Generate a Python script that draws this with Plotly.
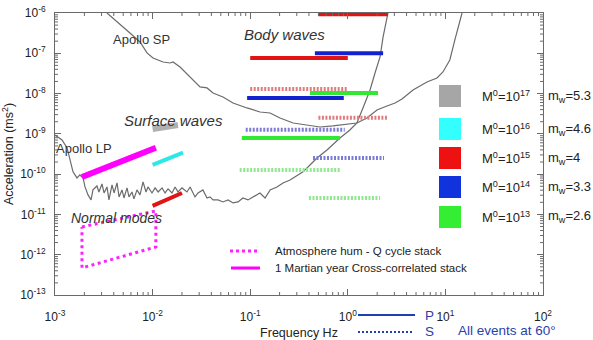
import plotly.graph_objects as go

FONT = "Arial, Liberation Sans, Helvetica, sans-serif"

# ---------------- data ----------------
# Apollo short-period noise curve
sp_freq = [3.41e-3, 3.93e-3, 4.42e-3, 5.86e-3, 7.43e-3, 8.77e-3, 1.01e-2, 1.28e-2, 1.51e-2, 1.62e-2,
           1.91e-2, 2.42e-2, 3.06e-2, 3.61e-2, 4.16e-2, 5.26e-2, 6.67e-2, 9.27e-2, 0.126, 0.160,
           0.202, 0.275, 0.382, 0.519, 0.705, 0.982, 1.24, 1.57, 1.99, 2.52,
           3.05, 3.59, 4.66, 6.47, 8.20, 9.44, 11.1, 12.5, 14.1, 14.8]
sp_acc = [1.00e-6, 7.52e-7, 5.65e-7, 3.19e-7, 1.91e-7, 1.02e-7, 7.64e-8, 6.08e-8, 5.74e-8, 6.08e-8,
          4.57e-8, 2.58e-8, 1.46e-8, 1.38e-8, 1.03e-8, 8.24e-9, 5.85e-9, 4.40e-9, 3.49e-9, 3.30e-9,
          2.48e-9, 1.86e-9, 1.66e-9, 1.48e-9, 1.57e-9, 1.76e-9, 1.86e-9, 2.48e-9, 3.92e-9, 4.92e-9,
          5.85e-9, 7.34e-9, 1.23e-8, 1.94e-8, 2.44e-8, 3.44e-8, 6.82e-8, 2.14e-7, 6.70e-7, 1.00e-6]

# Apollo long-period noise curve
lp_freq = [1.00e-3, 1.07e-3, 1.18e-3, 1.33e-3, 1.43e-3, 1.53e-3, 1.68e-3, 1.80e-3, 1.94e-3, 2.03e-3,
           2.18e-3, 2.34e-3, 2.45e-3, 2.69e-3, 2.82e-3, 3.03e-3, 3.18e-3, 3.41e-3, 3.57e-3, 3.84e-3,
           4.03e-3, 4.32e-3, 4.53e-3, 4.86e-3, 5.09e-3, 5.47e-3, 5.73e-3, 6.15e-3, 6.44e-3, 6.92e-3,
           7.43e-3, 7.98e-3, 8.56e-3, 8.97e-3, 9.86e-3, 1.06e-2, 1.14e-2, 1.25e-2, 1.34e-2, 1.44e-2,
           1.58e-2, 1.70e-2, 1.82e-2, 2.00e-2, 2.25e-2, 2.42e-2, 2.72e-2, 2.92e-2, 3.28e-2, 3.61e-2,
           3.87e-2, 4.16e-2, 4.68e-2, 5.26e-2, 5.93e-2, 6.67e-2, 7.50e-2, 8.43e-2, 9.49e-2, 0.107,
           0.126, 0.142, 0.160, 0.188, 0.217, 0.256, 0.302, 0.348, 0.410, 0.483,
           0.612, 0.832, 1.05, 1.24, 1.43, 1.69, 1.90, 2.14, 2.30, 2.58]
lp_acc = [9.40e-10, 8.38e-10, 7.06e-10, 4.47e-10, 2.01e-10, 1.14e-10, 8.05e-11, 9.55e-11, 8.05e-11, 4.81e-11,
          3.05e-11, 2.29e-11, 4.06e-11, 5.09e-11, 3.61e-11, 5.71e-11, 3.41e-11, 4.81e-11, 2.29e-11, 5.40e-11,
          3.41e-11, 6.05e-11, 2.72e-11, 4.06e-11, 2.56e-11, 4.55e-11, 2.72e-11, 3.61e-11, 2.43e-11, 4.06e-11,
          3.05e-11, 6.40e-11, 3.61e-11, 4.81e-11, 3.41e-11, 4.55e-11, 3.61e-11, 4.55e-11, 3.41e-11, 4.30e-11,
          3.41e-11, 4.81e-11, 3.61e-11, 4.55e-11, 3.61e-11, 4.81e-11, 2.72e-11, 3.41e-11, 4.06e-11, 2.56e-11,
          2.72e-11, 2.29e-11, 2.29e-11, 2.04e-11, 2.29e-11, 1.93e-11, 2.04e-11, 2.56e-11, 2.29e-11, 2.72e-11,
          3.41e-11, 2.56e-11, 4.06e-11, 4.81e-11, 6.05e-11, 7.18e-11, 9.02e-11, 1.14e-10, 1.69e-10, 2.52e-10,
          3.98e-10, 7.91e-10, 1.25e-9, 1.86e-9, 4.40e-9, 1.23e-8, 3.24e-8, 8.10e-8, 2.54e-7, 1.00e-6]

# Body waves (P solid, S dotted) at 60 degrees
body_f_start = [0.50, 0.46, 0.10, 0.10, 0.41, 0.093, 0.50, 0.090, 0.082, 0.44, 0.078, 0.40]
body_f_end = [2.58, 2.30, 1.00, 1.00, 2.04, 0.91, 2.58, 0.93, 0.83, 2.35, 0.85, 2.14]
body_acc = [9.3e-7, 1.0e-7, 7.6e-8, 1.3e-8, 1.03e-8, 7.8e-9, 2.5e-9, 1.26e-9, 7.9e-10, 2.5e-10, 1.27e-10, 2.57e-11]
body_moment = ["1e15", "1e14", "1e15", "1e15", "1e13", "1e14", "1e15", "1e14", "1e13", "1e14", "1e13", "1e13"]
body_phase = ["P", "P", "P", "S", "P", "P", "S", "S", "P", "S", "S", "S"]

# Surface waves
surf_moment = ["1e17", "1e16", "1e15"]
surf_f_start = [1.0e-2, 1.0e-2, 1.0e-2]
surf_f_end = [1.82e-2, 2.05e-2, 2.0e-2]
surf_acc_start = [1.32e-9, 1.70e-10, 1.63e-11]
surf_acc_end = [1.66e-9, 3.40e-10, 3.41e-11]

# 1 Martian year cross-correlated stack
stack_freq = [1.89e-3, 1.08e-2]
stack_acc = [8.5e-11, 4.5e-10]

# Atmosphere hum - Q cycle stack (normal modes)
hum_freq = [1.89e-3, 1.08e-2, 1.08e-2, 1.89e-3, 1.89e-3]
hum_acc = [4.9e-12, 1.22e-11, 1.56e-12, 4.7e-13, 4.9e-12]

# Legend of seismic moments
legend_moment = ["1e17", "1e16", "1e15", "1e14", "1e13"]
legend_m0_exp = ["17", "16", "15", "14", "13"]
legend_mw = ["5.3", "4.6", "4", "3.3", "2.6"]

# axis ticks
x_tick_exp = [-3, -2, -1, 0, 1, 2]
y_tick_exp = [-13, -12, -11, -10, -9, -8, -7, -6]
minor_mult = [2, 3, 4, 5, 6, 7, 8, 9]

# ---------------- styles ----------------
solid_col = {"1e17": "rgba(150,150,150,0.75)", "1e16": "#2ee8e8", "1e15": "#e01414",
             "1e14": "#1222d0", "1e13": "#33e833"}
dot_col = {"1e15": "#e07c7c", "1e14": "#7c7cd6", "1e13": "#90e890"}
square_col = {"1e17": "#a6a6a6", "1e16": "#33ffff", "1e15": "#ee1111", "1e14": "#1133dd", "1e13": "#33ee33"}
AX = "#6a6a6a"

fig = go.Figure()

fig.add_trace(go.Scatter(x=sp_freq, y=sp_acc, mode="lines",
                         line=dict(color="#6b6b6b", width=1.2), hoverinfo="skip", showlegend=False))
fig.add_trace(go.Scatter(x=lp_freq, y=lp_acc, mode="lines",
                         line=dict(color="#6b6b6b", width=1.2), hoverinfo="skip", showlegend=False))

for f0, f1, a, m, ph in zip(body_f_start, body_f_end, body_acc, body_moment, body_phase):
    if ph == "P":
        line = dict(color=solid_col[m], width=4)
    else:
        line = dict(color=dot_col[m], width=4, dash="2px,1.5px")
    fig.add_trace(go.Scatter(x=[f0, f1], y=[a, a], mode="lines", line=line,
                             hoverinfo="skip", showlegend=False))

for m, f0, f1, a0, a1 in zip(surf_moment, surf_f_start, surf_f_end, surf_acc_start, surf_acc_end):
    w = 6 if m == "1e17" else 4
    fig.add_trace(go.Scatter(x=[f0, f1], y=[a0, a1], mode="lines",
                             line=dict(color=solid_col[m], width=w), hoverinfo="skip", showlegend=False))

fig.add_trace(go.Scatter(x=stack_freq, y=stack_acc, mode="lines",
                         line=dict(color="#ff00ff", width=6), hoverinfo="skip", showlegend=False))
fig.add_trace(go.Scatter(x=hum_freq, y=hum_acc, mode="lines",
                         line=dict(color="#ff22ff", width=3, dash="3px,3.5px"), hoverinfo="skip", showlegend=False))

# ---------------- layout helpers (pixel -> paper) ----------------
L, R, T, B = 55, 543, 13, 295
def px(x):
    return (x - L) / (R - L)
def py(y):
    return (B - y) / (B - T)

shapes = []
annotations = []

def txt(s, x, y, size, xanchor="center", color="#333333", italic=False):
    annotations.append(dict(text=s, x=px(x), y=py(y), xref="paper", yref="paper",
                            xanchor=xanchor, yanchor="middle", showarrow=False,
                            font=dict(family=FONT, size=size, color=color,
                                      style="italic" if italic else "normal")))

# minor log ticks (inside, on all four sides)
for d in x_tick_exp[:-1]:
    for k in minor_mult:
        v = k * 10.0 ** d
        shapes.append(dict(type="line", xref="x", yref="paper", ysizemode="pixel", yanchor=0,
                           x0=v, x1=v, y0=0, y1=3, line=dict(color=AX, width=1)))
        shapes.append(dict(type="line", xref="x", yref="paper", ysizemode="pixel", yanchor=1,
                           x0=v, x1=v, y0=0, y1=-3, line=dict(color=AX, width=1)))
for d in y_tick_exp[:-1]:
    for k in minor_mult:
        v = k * 10.0 ** d
        shapes.append(dict(type="line", yref="y", xref="paper", xsizemode="pixel", xanchor=0,
                           y0=v, y1=v, x0=0, x1=3, line=dict(color=AX, width=1)))
        shapes.append(dict(type="line", yref="y", xref="paper", xsizemode="pixel", xanchor=1,
                           y0=v, y1=v, x0=0, x1=-3, line=dict(color=AX, width=1)))

txt("Apollo SP", 141, 39, 13)
txt("Apollo LP", 54, 148, 13, xanchor="left")
txt("Surface waves", 173, 120, 15, italic=True)
txt("Body waves", 284, 34, 15, italic=True)
txt("Normal modes", 116, 218, 14, italic=True)

# moment legend
row_y = [96, 129, 158, 187, 217]
for m, e, mw, yc in zip(legend_moment, legend_m0_exp, legend_mw, row_y):
    shapes.append(dict(type="rect", xref="paper", yref="paper",
                       x0=px(439), x1=px(461), y0=py(yc - 11), y1=py(yc + 11),
                       fillcolor=square_col[m], line=dict(width=0), layer="above"))
    txt("M<sup>0</sup>=10<sup>%s</sup>" % e, 480, yc, 13, xanchor="left", color="#222222")
    txt("m<sub>w</sub>=%s" % mw, 546, yc, 13, xanchor="left", color="#222222")

# stack legend
shapes.append(dict(type="line", xref="paper", yref="paper", x0=px(230), x1=px(258), y0=py(251), y1=py(251),
                   line=dict(color="#ff22ff", width=3, dash="3px,3px"), layer="above"))
shapes.append(dict(type="line", xref="paper", yref="paper", x0=px(231), x1=px(260), y0=py(268), y1=py(268),
                   line=dict(color="#ff00ff", width=3), layer="above"))
txt("Atmosphere hum - Q cycle stack", 273, 251, 11.5, xanchor="left", color="#222222")
txt("1 Martian year Cross-correlated stack", 273, 268, 11.5, xanchor="left", color="#222222")

# P / S legend
shapes.append(dict(type="line", xref="paper", yref="paper", x0=px(358), x1=px(415), y0=py(315), y1=py(315),
                   line=dict(color="#2040b0", width=2)))
shapes.append(dict(type="line", xref="paper", yref="paper", x0=px(358), x1=px(414), y0=py(332), y1=py(332),
                   line=dict(color="#2040b0", width=2, dash="2px,2px")))
txt("P", 423, 315, 13.5, xanchor="left", color="#2a3fa8")
txt("S", 423, 331, 13.5, xanchor="left", color="#2a3fa8")
txt("All events at 60°", 456, 330, 13.5, xanchor="left", color="#2a3fa8")

axis_common = dict(type="log", showline=True, linecolor=AX, linewidth=1, mirror="ticks",
                   ticks="inside", ticklen=6, tickcolor=AX, showgrid=False, zeroline=False,
                   automargin=False, tickmode="array",
                   tickfont=dict(family=FONT, size=12, color="#222222"))

fig.update_layout(
    width=593, height=340,
    margin=dict(l=L, r=593 - R, t=T, b=340 - B, autoexpand=False),
    plot_bgcolor="white", paper_bgcolor="white",
    font=dict(family=FONT, color="#222222"),
    xaxis=dict(axis_common, range=[-3, 2], ticklabelstandoff=11,
               tickvals=[10.0 ** e for e in x_tick_exp],
               ticktext=["10<sup>%d</sup>" % e for e in x_tick_exp],
               title=dict(text="Frequency Hz", font=dict(family=FONT, size=12.5, color="#222222"), standoff=9)),
    yaxis=dict(axis_common, range=[-13, -6], ticklabelstandoff=6,
               tickvals=[10.0 ** e for e in y_tick_exp],
               ticktext=["10<sup>%d</sup>" % e for e in y_tick_exp],
               title=dict(text="Acceleration (ms<sup>2</sup>)", font=dict(family=FONT, size=12.5, color="#222222"), standoff=3)),
    shapes=shapes, annotations=annotations,
)

fig.write_html("out.html")
